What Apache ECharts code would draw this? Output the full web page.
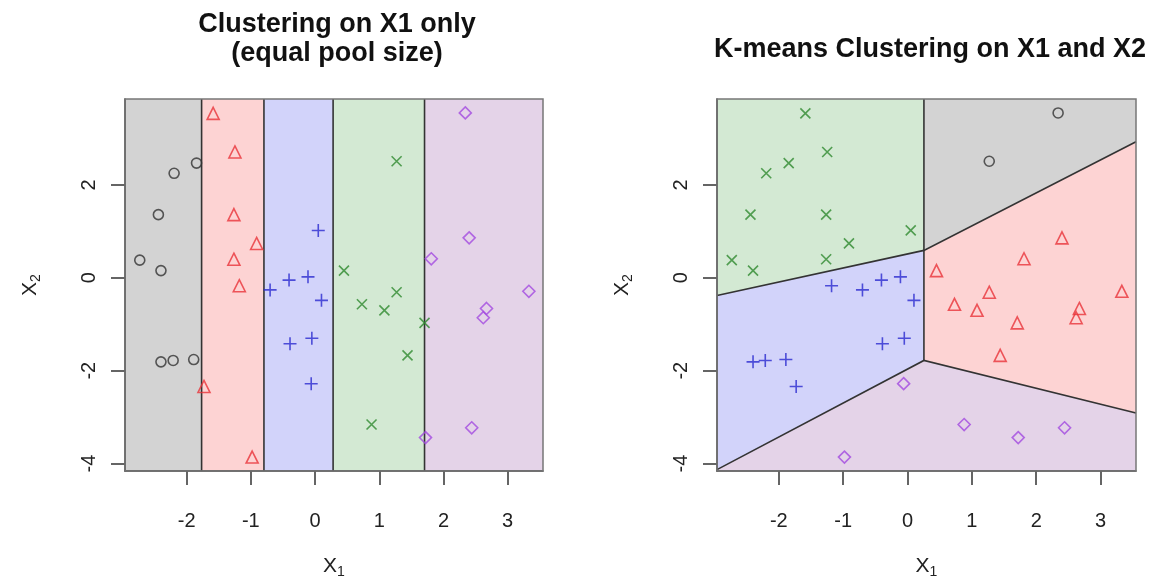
<!DOCTYPE html>
<html><head><meta charset="utf-8">
<script src="https://cdn.jsdelivr.net/npm/echarts@6/dist/echarts.min.js"></script>
<style>html,body{margin:0;padding:0;background:#fff}#c{width:1153px;height:579px}</style>
</head><body><div id="c"></div>
<script>
// ---- data ----
const x1 = [-1.587,-1.248,-1.846,-2.195,-2.44,-1.264,0.05,-0.91,-2.73,-1.264,-2.40,0.45,-0.405,-0.11,-1.18,-0.70,0.10,-0.39,-0.05,-2.40,-2.21,-1.89,-1.73,-0.06,-0.98,2.34,1.27,2.40,1.81,1.27,0.73,1.08,1.705,1.44,0.88,3.33,2.67,2.62,2.44,1.72];
const x2 = [3.54,2.71,2.47,2.25,1.36,1.36,1.02,0.74,0.38,0.40,0.155,0.155,-0.05,0.02,-0.17,-0.26,-0.485,-1.42,-1.30,-1.81,-1.78,-1.76,-2.34,-2.28,-3.86,3.55,2.51,0.86,0.41,-0.31,-0.57,-0.70,-0.97,-1.67,-3.16,-0.29,-0.66,-0.86,-3.23,-3.44];
// cluster index: 0 grey circle, 1 red triangle, 2 blue plus, 3 green cross, 4 purple diamond
const poolCluster   = [1,1,0,0,0,1,2,1,0,1,0,3,2,2,1,2,2,2,2,0,0,0,1,2,1,4,3,4,4,3,3,3,3,3,3,4,4,4,4,4];
const kmeansCluster = [3,3,3,3,3,3,3,3,3,3,3,1,2,2,2,2,2,2,2,2,2,2,2,4,4,0,0,1,1,1,1,1,1,1,4,1,1,1,4,4];
const xTicks = [-2,-1,0,1,2,3];
const yTicks = [-4,-2,0,2];
const xRange = [-2.96, 3.55];
const yRange = [-4.16, 3.85];
// equal-pool-size cut points on X1
const poolBreaks = [-1.767,-0.796,0.281,1.705];
// k-means (Voronoi) region vertices, data units, index = cluster
const kmRegions = [
  [[0.255,3.85],[3.55,3.85],[3.55,2.93],[0.255,0.59]],
  [[0.255,0.59],[3.55,2.93],[3.55,-2.91],[0.255,-1.78]],
  [[-2.96,-0.38],[0.255,0.59],[0.255,-1.78],[-2.96,-4.13]],
  [[-2.96,3.85],[0.255,3.85],[0.255,0.59],[-2.96,-0.38]],
  [[-2.96,-4.13],[0.255,-1.78],[3.55,-2.91],[3.55,-4.16],[-2.96,-4.16]]
];
const kmBoundaries = [
  [[0.255,3.85],[0.255,-1.78]],
  [[-2.96,-0.38],[0.255,0.59],[3.55,2.93]],
  [[-2.96,-4.13],[0.255,-1.78],[3.55,-2.91]]
];

// ---- styles ----
const FONT = 'Liberation Sans, Arial, sans-serif';
const symbols = ['circle','triangle','path://M0,-1L0,1M-1,0L1,0','path://M-1,-1L1,1M-1,1L1,-1','diamond'];
const symSizes = [10,12,13,10,12];
const pointColors = ['#333333','#e8333a','#2a2ad0','#2f8a2f','#a34ae0'];
const regionColors = ['#d3d3d3','#fdd3d3','#d2d3fa','#d3e9d3','#e4d3e8'];

// pool regions built from breaks
const bandEdges = [xRange[0]].concat(poolBreaks, [xRange[1]]);
const poolRegions = [];
for (let i = 0; i < 5; i++) {
  const a = bandEdges[i], b = bandEdges[i+1];
  poolRegions.push([[a,yRange[1]],[b,yRange[1]],[b,yRange[0]],[a,yRange[0]]]);
}
const poolBoundaries = poolBreaks.map(v => [[v,yRange[1]],[v,yRange[0]]]);

function regionSeries(regions, gi) {
  return {
    type: 'custom', xAxisIndex: gi, yAxisIndex: gi, z: 1, silent: true,
    data: regions.map((r, i) => ({ value: r[0], idx: i })),
    renderItem: function (params, api) {
      const poly = regions[params.dataIndex];
      return { type: 'polygon', shape: { points: poly.map(p => api.coord(p)) },
        style: { fill: regionColors[params.dataIndex], stroke: null } };
    }
  };
}
function boundarySeries(lines, gi) {
  return {
    type: 'custom', xAxisIndex: gi, yAxisIndex: gi, z: 2, silent: true,
    data: lines.map(l => l[0]),
    renderItem: function (params, api) {
      const l = lines[params.dataIndex];
      return { type: 'polyline', shape: { points: l.map(p => api.coord(p)) },
        style: { stroke: '#333', lineWidth: 1.6, fill: null } };
    }
  };
}
function pointSeries(labels, gi) {
  const out = [];
  for (let k = 0; k < 5; k++) {
    const d = [];
    for (let i = 0; i < x1.length; i++) if (labels[i] === k) d.push([x1[i], x2[i]]);
    out.push({
      type: 'scatter', xAxisIndex: gi, yAxisIndex: gi, z: 6, silent: true,
      symbol: symbols[k], symbolSize: symSizes[k], data: d,
      itemStyle: { color: 'rgba(0,0,0,0)', borderColor: pointColors[k], borderWidth: 1.6 }
    });
  }
  return out;
}

const sub = { x: { fontSize: 21, fontFamily: FONT, color: '#222' }, s: { fontSize: 14, fontFamily: FONT, color: '#222', padding: [12,0,0,0] } };
function xAxisCfg(gi) {
  return {
    type: 'value', gridIndex: gi, min: xRange[0], max: xRange[1], z: 8,
    name: '{x|X}{s|1}', nameLocation: 'middle', nameGap: 82, nameTextStyle: { rich: sub },
    splitLine: { show: false },
    axisLine: { show: true, onZero: false, lineStyle: { color: '#333', width: 1.5 } },
    axisTick: { show: true, length: 14, customValues: xTicks, lineStyle: { color: '#333', width: 1.5 } },
    axisLabel: { customValues: xTicks, fontSize: 20, fontFamily: FONT, color: '#222', margin: 40 }
  };
}
function yAxisCfg(gi) {
  return {
    type: 'value', gridIndex: gi, min: yRange[0], max: yRange[1], z: 8,
    name: '{x|X}{s|2}', nameLocation: 'middle', nameGap: 82, nameRotate: 90, nameTextStyle: { rich: sub },
    splitLine: { show: false },
    axisLine: { show: true, onZero: false, lineStyle: { color: '#333', width: 1.5 } },
    axisTick: { show: true, length: 14, customValues: yTicks, lineStyle: { color: '#333', width: 1.5 } },
    axisLabel: { customValues: yTicks, fontSize: 20, fontFamily: FONT, color: '#222', rotate: 90, margin: 26 }
  };
}

const chart = echarts.init(document.getElementById('c'), null, { renderer: 'canvas' });
chart.setOption({
  animation: false,
  backgroundColor: '#ffffff',
  title: [
    { text: 'Clustering on X1 only\n(equal pool size)', left: 332, top: 5, textAlign: 'center',
      textStyle: { fontSize: 27, fontWeight: 'bold', lineHeight: 29, color: '#111', fontFamily: FONT } },
    { text: 'K-means Clustering on X1 and X2', left: 925, top: 31, textAlign: 'center',
      textStyle: { fontSize: 27, fontWeight: 'bold', color: '#111', fontFamily: FONT } }
  ],
  grid: [
    { left: 125, top: 99, width: 418, height: 372, show: true, borderColor: '#777', borderWidth: 1.5, backgroundColor: 'transparent', z: 9, outerBoundsMode: 'none', containLabel: false },
    { left: 717, top: 99, width: 419, height: 372, show: true, borderColor: '#777', borderWidth: 1.5, backgroundColor: 'transparent', z: 9, outerBoundsMode: 'none', containLabel: false }
  ],
  xAxis: [xAxisCfg(0), xAxisCfg(1)],
  yAxis: [yAxisCfg(0), yAxisCfg(1)],
  series: [
    regionSeries(poolRegions, 0), boundarySeries(poolBoundaries, 0),
    regionSeries(kmRegions, 1), boundarySeries(kmBoundaries, 1)
  ].concat(pointSeries(poolCluster, 0), pointSeries(kmeansCluster, 1))
});
</script></body></html>
